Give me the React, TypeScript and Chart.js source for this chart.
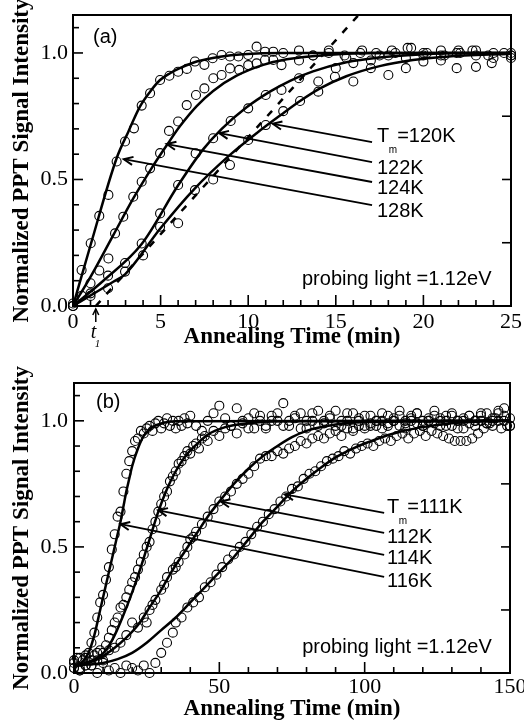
import React, { useEffect, useRef } from 'react';
import { Chart, registerables } from 'chart.js';

Chart.register(...registerables);

type Pt = [number, number];

// ---------------- Panel (a) ----------------
const aFit128: Pt[] = [[0,0],[1.0,0.24],[2.49,0.584],[3.16,0.689],[3.82,0.788],[4.4,0.847],[4.97,0.893],[5.54,0.92],[6.1,0.94],[7.06,0.966],[8.39,0.985],[9.7,0.995],[12,1.0],[25,1.0]];
const aFit124: Pt[] = [[0,0],[1,0.115],[2.3,0.28],[3.44,0.425],[4.49,0.545],[5.35,0.635],[6.1,0.71],[7.06,0.79],[8.0,0.85],[9.34,0.91],[10.86,0.953],[12.2,0.975],[14.7,0.993],[17,1.0],[25,1.0]];
const aFit122: Pt[] = [[0,0],[1.73,0.1],[3.92,0.245],[6.01,0.478],[7.44,0.62],[8.49,0.7],[9.91,0.785],[11.24,0.847],[12.39,0.89],[13.7,0.927],[15.6,0.963],[17.5,0.982],[19.8,0.994],[22,1.0],[25,1.0]];
const aFit120: Pt[] = [[0,0],[2.3,0.096],[2.97,0.125],[4.97,0.305],[6.96,0.465],[8.96,0.597],[10.48,0.683],[12.0,0.762],[12.96,0.81],[14.1,0.86],[15.6,0.908],[17.5,0.948],[19.4,0.972],[21.3,0.985],[25,0.997]];

const aDat128: Pt[] = [[0,0],[0.49,0.142],[1.01,0.248],[1.5,0.356],[2.02,0.439],[2.49,0.571],[2.97,0.65],[3.48,0.702],[3.92,0.792],[4.4,0.841],[4.97,0.893],[5.5,0.91],[6.0,0.926],[6.5,0.937],[6.96,0.966],[7.5,0.953],[7.97,0.979],[8.48,0.992],[8.96,0.986],[9.44,0.986],[10.0,0.992],[10.48,1.025],[10.96,1.005],[11.43,1.005],[12.0,1.0],[12.9,1.01],[13.7,0.99],[14.6,1.01],[15.5,0.99],[16.4,1.0],[17.3,1.0],[18.2,1.01],[19.1,1.02],[20.0,0.99],[21.0,1.01],[21.9,1.0],[22.8,1.01],[23.7,0.99],[24.6,1.0],[25,1.0]];
const aDat124: Pt[] = [[0,0],[0.5,0.04],[1.0,0.09],[1.5,0.14],[2.02,0.188],[2.4,0.287],[2.87,0.353],[3.44,0.432],[3.92,0.491],[4.4,0.544],[4.97,0.604],[5.48,0.692],[6.0,0.729],[6.49,0.794],[7.02,0.834],[7.5,0.86],[8.01,0.9],[8.48,0.913],[8.96,0.939],[9.49,0.933],[10.0,0.952],[10.48,0.959],[10.96,0.972],[11.43,0.972],[11.9,0.952],[12.9,0.97],[13.7,0.99],[14.6,1.0],[15.6,0.98],[16.5,1.01],[17.5,0.99],[18.4,1.0],[19.3,1.02],[20.2,1.0],[21.2,0.99],[22.1,1.0],[23.0,1.01],[24.0,0.98],[25,0.99]];
const aDat122: Pt[] = [[0,0.01],[1.0,0.05],[2.0,0.12],[2.97,0.17],[3.92,0.247],[4.97,0.366],[6.0,0.478],[7.0,0.603],[8.0,0.663],[9.0,0.731],[10.0,0.781],[11.0,0.834],[11.9,0.854],[12.9,0.9],[14.0,0.887],[15.0,0.94],[16.0,0.96],[17.0,0.97],[18.0,0.99],[19.0,0.98],[20.0,1.0],[21.0,0.99],[22.0,1.01],[23.0,0.99],[24.0,1.0],[25,0.99]];
const aDat120: Pt[] = [[0,0],[1.0,0.04],[2.0,0.07],[2.97,0.136],[4.0,0.2],[4.97,0.313],[6.0,0.327],[6.96,0.458],[8.0,0.5],[8.96,0.557],[10.0,0.656],[11.0,0.715],[12.0,0.77],[12.96,0.81],[14.0,0.847],[14.95,0.906],[16.0,0.887],[17.0,0.94],[18.0,0.913],[19.0,0.94],[20.0,0.966],[21.0,0.97],[21.9,0.94],[23.0,0.945],[23.9,0.96],[25,0.98]];

const aTangent: Pt[] = [[1.3, 0], [16.3, 1.15]];
const aT1 = 1.3;

const aLabelText = ['120K', '122K', '124K', '128K'];
const aLabelTm = [true, false, false, false];
const aArrowTips: Pt[] = [[11.4, 0.72], [8.35, 0.683], [5.35, 0.64], [2.9, 0.58]];
const aArrowTails: Pt[] = [[17.07, 0.648], [17.07, 0.569], [17.07, 0.49], [17.07, 0.399]];
const aLabelPos: Pt[] = [[17.35, 0.668], [17.35, 0.545], [17.35, 0.466], [17.35, 0.372]];
const aProbePos: Pt = [13.07, 0.103];
const aLetterPos: Pt = [1.14, 1.063];

const aXMajor = [0, 5, 10, 15, 20, 25];
const aXMinor = [1, 2, 3, 4, 6, 7, 8, 9, 11, 12, 13, 14, 16, 17, 18, 19, 21, 22, 23, 24];

// ---------------- Panel (b) ----------------
const bFit116: Pt[] = [[0,0.03],[3,0.045],[5,0.08],[7,0.15],[9,0.25],[11,0.35],[13,0.45],[15,0.55],[16,0.6],[17,0.66],[18,0.72],[19,0.77],[20,0.82],[22,0.89],[24,0.94],[27,0.975],[30,0.99],[35,0.998],[150,1.0]];
const bFit114: Pt[] = [[0,0.03],[4,0.04],[8,0.06],[11,0.09],[14,0.15],[17,0.23],[20,0.32],[23,0.42],[26,0.53],[29,0.64],[32,0.73],[35,0.8],[38,0.855],[42,0.905],[46,0.945],[52,0.975],[60,0.99],[70,0.998],[150,1.0]];
const bFit112: Pt[] = [[0,0.03],[5,0.04],[9,0.06],[14,0.1],[18,0.14],[22,0.19],[26,0.26],[30,0.33],[34,0.41],[38,0.48],[42,0.55],[46,0.62],[50,0.68],[55,0.75],[60,0.81],[65,0.86],[70,0.9],[75,0.935],[80,0.96],[90,0.985],[100,0.995],[150,1.0]];
const bFit111: Pt[] = [[0,0.03],[10,0.04],[15,0.055],[20,0.08],[25,0.12],[30,0.17],[35,0.22],[40,0.28],[45,0.34],[50,0.4],[55,0.46],[60,0.53],[65,0.6],[70,0.66],[75,0.72],[80,0.77],[85,0.815],[90,0.855],[95,0.885],[100,0.91],[110,0.95],[120,0.975],[130,0.99],[140,0.997],[150,1.0]];

const bDat116: Pt[] = [[0,0.02],[1,0.06],[2,0.01],[3,0.05],[4,0.03],[5,0.08],[6,0.12],[7,0.16],[8,0.22],[9,0.28],[10,0.31],[11,0.37],[12,0.42],[13,0.49],[14,0.55],[15,0.62],[16,0.64],[17,0.72],[18,0.79],[19,0.84],[20,0.88],[21,0.92],[22,0.93],[23,0.96],[24,0.95],[25,0.97],[26,0.98],[27,0.96],[28,0.99],[29,1.0],[30,0.97],[31,0.99],[32,1.01],[33,0.98],[34,1.0],[35,0.97],[36,1.0],[37,0.98],[38,1.01],[39,0.99],[40,1.02],[42,0.98],[44,0.96],[46,1.0],[48,1.03],[50,1.06],[52,1.01],[54,0.98],[56,1.05],[58,1.0],[60,0.97],[62,1.03],[64,1.0],[66,0.97],[68,1.02],[70,1.0],[72,1.07],[74,0.98],[76,1.01],[78,1.03],[80,0.97],[82,1.0],[84,1.04],[86,0.99],[88,1.01],[90,1.04],[92,0.98],[94,1.0],[96,1.03],[98,1.01],[100,0.98],[102,1.02],[104,1.0],[106,0.97],[108,1.02],[110,1.0],[112,1.04],[114,0.99],[116,1.01],[118,1.03],[120,0.98],[122,1.0],[124,1.04],[126,1.01],[128,0.98],[130,1.02],[132,1.0],[134,0.97],[136,1.02],[138,1.0],[140,1.03],[142,0.99],[144,1.01],[146,1.04],[148,1.05],[150,0.98]];
const bDat114: Pt[] = [[0,0.04],[2,0.01],[4,0.06],[6,0.03],[7,0.07],[8,0.05],[9,0.09],[10,0.08],[11,0.11],[12,0.14],[13,0.17],[14,0.2],[15,0.22],[16,0.26],[17,0.27],[18,0.3],[19,0.33],[20,0.36],[21,0.38],[22,0.41],[23,0.44],[24,0.47],[25,0.5],[26,0.52],[27,0.57],[28,0.6],[29,0.64],[30,0.67],[31,0.7],[32,0.72],[33,0.76],[34,0.78],[35,0.8],[36,0.83],[37,0.84],[38,0.86],[39,0.88],[40,0.87],[41,0.9],[42,0.91],[43,0.89],[44,0.93],[45,0.94],[46,0.92],[48,0.96],[50,0.94],[52,0.97],[54,0.98],[56,0.95],[58,0.99],[60,1.01],[62,0.97],[64,1.02],[66,0.98],[68,1.0],[70,1.03],[72,0.98],[74,1.0],[76,1.02],[78,0.97],[80,1.0],[82,1.03],[84,0.98],[86,1.0],[88,1.02],[90,0.98],[92,1.0],[94,1.03],[96,0.97],[98,1.0],[100,1.02],[102,0.98],[104,1.0],[106,1.03],[108,0.98],[110,1.0],[112,1.02],[114,0.97],[116,1.0],[118,1.03],[120,0.98],[122,1.0],[124,1.02],[126,0.98],[128,1.0],[130,1.03],[132,0.97],[134,1.0],[136,1.02],[138,0.98],[140,1.0],[142,1.03],[144,0.98],[146,1.0],[148,1.02],[150,0.98]];
const bDat112: Pt[] = [[0,0.02],[2,0.06],[4,0.03],[6,0.05],[8,0.08],[10,0.05],[12,0.09],[14,0.1],[16,0.12],[18,0.15],[20,0.2],[22,0.18],[24,0.22],[25,0.2],[26,0.25],[27,0.27],[28,0.29],[30,0.33],[31,0.35],[32,0.38],[34,0.41],[35,0.42],[36,0.44],[38,0.47],[39,0.5],[40,0.53],[41,0.54],[42,0.56],[44,0.59],[46,0.62],[48,0.65],[50,0.68],[52,0.7],[54,0.72],[56,0.75],[58,0.77],[60,0.79],[62,0.82],[64,0.85],[66,0.86],[68,0.86],[70,0.88],[72,0.87],[74,0.89],[76,0.9],[78,0.92],[80,0.91],[82,0.93],[84,0.94],[86,0.93],[88,0.95],[90,0.96],[92,0.94],[94,0.97],[96,0.96],[98,0.98],[100,0.97],[102,0.99],[104,0.98],[106,1.0],[108,0.99],[110,1.01],[112,0.98],[114,1.0],[116,1.02],[118,0.99],[120,1.0],[122,1.01],[124,0.99],[126,1.0],[128,1.02],[130,0.98],[132,1.0],[134,1.01],[136,0.99],[138,1.0],[140,1.02],[142,0.99],[144,1.0],[146,1.03],[148,1.0],[150,1.01]];
const bDat111: Pt[] = [[0,0.05],[2,0.02],[4,0.07],[6,0.03],[8,0.0],[10,0.04],[12,0.01],[14,0.02],[16,0.0],[18,0.03],[20,0.02],[22,0.01],[24,0.03],[26,0.0],[28,0.04],[30,0.08],[32,0.12],[34,0.16],[35,0.2],[37,0.22],[39,0.26],[41,0.28],[43,0.3],[45,0.34],[47,0.36],[49,0.39],[51,0.42],[53,0.45],[55,0.47],[57,0.5],[59,0.52],[61,0.55],[63,0.58],[65,0.6],[67,0.63],[69,0.65],[71,0.68],[73,0.7],[75,0.73],[77,0.74],[79,0.77],[81,0.79],[83,0.8],[85,0.82],[87,0.84],[89,0.85],[91,0.86],[93,0.88],[95,0.87],[97,0.89],[99,0.9],[101,0.91],[103,0.9],[105,0.92],[107,0.93],[109,0.92],[111,0.94],[113,0.95],[115,0.93],[117,0.95],[119,0.96],[121,0.94],[123,0.96],[125,0.95],[127,0.94],[129,0.93],[131,0.92],[133,0.92],[135,0.92],[137,0.93],[139,0.95],[141,0.97],[143,0.99],[145,1.01],[147,0.97],[149,0.98]];

const bLabelText = ['111K', '112K', '114K', '116K'];
const bLabelTm = [true, false, false, false];
const bArrowTips: Pt[] = [[72.5, 0.708], [50.5, 0.68], [29.0, 0.645], [16.0, 0.59]];
const bArrowTails: Pt[] = [[106.7, 0.635], [106.7, 0.556], [106.7, 0.468], [106.7, 0.381]];
const bLabelPos: Pt[] = [[107.7, 0.655], [107.7, 0.536], [107.7, 0.456], [107.7, 0.361]];
const bProbePos: Pt = [78.5, 0.103];
const bLetterPos: Pt = [7.57, 1.071];

const bXMajor = [0, 50, 100, 150];
const bXMinor = [10, 20, 30, 40, 60, 70, 80, 90, 110, 120, 130, 140];

// shared y ticks
const yMajor = [0, 0.5, 1.0];
const yMinor = [0.1, 0.2, 0.3, 0.4, 0.6, 0.7, 0.8, 0.9, 1.1];
const yRight = [0.25, 0.5, 0.75, 1.0];
const yMax = 1.15;

const SERIF = "'Liberation Serif', 'Times New Roman', serif";
const SANS = "'Liberation Sans', Arial, sans-serif";

const toXY = (pts: Pt[]) => pts.map(([x, y]) => ({ x, y }));

const annotPlugin = {
  id: 'annot',
  afterDatasetsDraw(chart: any, _args: any, o: any) {
    const { ctx, chartArea: ca, scales } = chart;
    const xs = scales.x, ys = scales.y;
    const px = (t: number) => xs.getPixelForValue(t);
    const py = (v: number) => ys.getPixelForValue(v);
    ctx.save();
    ctx.strokeStyle = '#000';
    ctx.fillStyle = '#000';
    ctx.lineCap = 'butt';
    ctx.lineWidth = 2;
    ctx.strokeRect(ca.left, ca.top, ca.right - ca.left, ca.bottom - ca.top);
    ctx.lineWidth = 1.6;
    const seg = (x1: number, y1: number, x2: number, y2: number) => {
      ctx.beginPath(); ctx.moveTo(x1, y1); ctx.lineTo(x2, y2); ctx.stroke();
    };
    o.xMajor.forEach((t: number) => seg(px(t), ca.bottom, px(t), ca.bottom - 11));
    o.xMinor.forEach((t: number) => seg(px(t), ca.bottom, px(t), ca.bottom - 6));
    yMajor.forEach((v) => seg(ca.left, py(v), ca.left + 10, py(v)));
    yMinor.forEach((v) => seg(ca.left, py(v), ca.left + 6, py(v)));
    yRight.forEach((v) => seg(ca.right, py(v), ca.right - 9, py(v)));
    ctx.lineWidth = 1.8;
    o.tips.forEach((tip: Pt, i: number) => {
      const tail = o.tails[i];
      const x1 = px(tail[0]), y1 = py(tail[1]);
      const x2 = px(tip[0]), y2 = py(tip[1]);
      seg(x1, y1, x2, y2);
      const a = Math.atan2(y2 - y1, x2 - x1);
      const L = 10, w = 0.42;
      ctx.beginPath();
      ctx.moveTo(x2 - L * Math.cos(a - w), y2 - L * Math.sin(a - w));
      ctx.lineTo(x2, y2);
      ctx.lineTo(x2 - L * Math.cos(a + w), y2 - L * Math.sin(a + w));
      ctx.lineWidth = 2;
      ctx.stroke();
      ctx.lineWidth = 1.8;
    });
    ctx.textBaseline = 'middle';
    ctx.textAlign = 'left';
    o.labels.forEach((txt: string, i: number) => {
      const x = px(o.labelPos[i][0]), y = py(o.labelPos[i][1]);
      ctx.font = `20px ${SANS}`;
      if (o.tm[i]) {
        ctx.fillText('T', x, y);
        const tw = ctx.measureText('T').width;
        ctx.font = `10px ${SANS}`;
        ctx.fillText('m', x + tw - 0.5, y + 13);
        ctx.font = `20px ${SANS}`;
        ctx.fillText('=' + txt, x + tw + 8, y);
      } else {
        ctx.fillText(txt, x, y);
      }
    });
    ctx.font = `20px ${SANS}`;
    ctx.fillText('probing light =1.12eV', px(o.probe[0]), py(o.probe[1]));
    ctx.fillText(o.letter, px(o.letterPos[0]), py(o.letterPos[1]));
    if (o.t1 !== undefined) {
      const x = px(o.t1);
      ctx.lineWidth = 1.5;
      seg(x, ca.bottom + 16, x, ca.bottom + 3);
      ctx.beginPath();
      ctx.moveTo(x - 3, ca.bottom + 9);
      ctx.lineTo(x, ca.bottom + 3);
      ctx.lineTo(x + 3, ca.bottom + 9);
      ctx.stroke();
      ctx.font = `italic 20px ${SERIF}`;
      ctx.fillText('t', x - 5, ca.bottom + 27);
      ctx.font = `italic 11px ${SERIF}`;
      ctx.fillText('1', x - 1, ca.bottom + 38);
    }
    ctx.restore();
  },
};

function buildConfig(p: any) {
  const datasets: any[] = [];
  p.data.forEach((d: Pt[]) =>
    datasets.push({
      data: toXY(d), showLine: false, pointRadius: 4.5, pointBorderWidth: 1.1,
      pointBorderColor: '#000', pointBackgroundColor: 'rgba(0,0,0,0)', clip: false, order: 2,
    })
  );
  p.fits.forEach((f: Pt[]) =>
    datasets.push({
      data: toXY(f), borderColor: '#000', borderWidth: 2.5, pointRadius: 0,
      cubicInterpolationMode: 'monotone', fill: false, order: 1,
    })
  );
  if (p.dashed) {
    datasets.push({
      data: toXY(p.dashed), borderColor: '#000', borderWidth: 2.5, borderDash: [7, 9],
      pointRadius: 0, fill: false, order: 0,
    });
  }
  return {
    type: 'line',
    data: { datasets },
    plugins: [annotPlugin],
    options: {
      animation: false,
      responsive: false,
      devicePixelRatio: 1,
      events: [],
      layout: { padding: { left: 0, right: p.padRight, top: p.padTop, bottom: 0 } },
      plugins: {
        legend: { display: false },
        tooltip: { enabled: false },
        annot: p.annot,
      },
      scales: {
        x: {
          type: 'linear', min: 0, max: p.xMax,
          grid: { display: false, drawTicks: false },
          border: { display: false },
          ticks: {
            stepSize: p.xStep, maxRotation: 0, autoSkip: false, padding: p.xTickPad,
            color: '#000', font: { family: SERIF, size: 22 },
            callback: (v: number) => String(v),
          },
          title: {
            display: true, text: 'Annealing Time (min)', color: '#000',
            font: { family: SERIF, size: 23, weight: 'bold' },
            padding: { top: 0, bottom: p.xTitlePad },
          },
          afterFit: (s: any) => { s.height = p.xHeight; s.paddingLeft = 0; s.paddingRight = 0; },
        },
        y: {
          type: 'linear', min: 0, max: yMax,
          grid: { display: false, drawTicks: false },
          border: { display: false },
          ticks: {
            stepSize: 0.5, padding: p.yTickPad, color: '#000', font: { family: SERIF, size: 22 },
            callback: (v: number) => (yMajor.some((m) => Math.abs(m - v) < 1e-6) ? v.toFixed(1) : ''),
          },
          title: {
            display: true, text: 'Normalized PPT Signal Intensity', color: '#000',
            font: { family: SERIF, size: 23, weight: 'bold' },
            padding: { top: 8, bottom: 0 },
          },
          afterFit: (s: any) => { s.width = p.yWidth; s.paddingTop = 0; s.paddingBottom = 0; },
        },
      },
    },
  };
}

const panelA = {
  data: [aDat128, aDat124, aDat122, aDat120],
  fits: [aFit128, aFit124, aFit122, aFit120],
  dashed: aTangent,
  xMax: 25, xStep: 5, padRight: 13, padTop: 15, xHeight: 54, xTitlePad: 9, xTickPad: 3, yTickPad: 5, yWidth: 73,
  annot: {
    xMajor: aXMajor, xMinor: aXMinor, tips: aArrowTips, tails: aArrowTails, labels: aLabelText,
    tm: aLabelTm, labelPos: aLabelPos, probe: aProbePos, letter: '(a)', letterPos: aLetterPos, t1: aT1,
  },
};

const panelB = {
  data: [bDat116, bDat114, bDat112, bDat111],
  fits: [bFit116, bFit114, bFit112, bFit111],
  dashed: null,
  xMax: 150, xStep: 50, padRight: 14, padTop: 23, xHeight: 52, xTitlePad: 2, xTickPad: 1, yTickPad: 6, yWidth: 74,
  annot: {
    xMajor: bXMajor, xMinor: bXMinor, tips: bArrowTips, tails: bArrowTails, labels: bLabelText,
    tm: bLabelTm, labelPos: bLabelPos, probe: bProbePos, letter: '(b)', letterPos: bLetterPos,
  },
};

function Panel({ spec, height }: { spec: any; height: number }) {
  const ref = useRef<HTMLCanvasElement>(null);
  useEffect(() => {
    const chart = new Chart(ref.current as HTMLCanvasElement, buildConfig(spec) as any);
    return () => chart.destroy();
  }, []);
  return <canvas ref={ref} width={524} height={height} style={{ display: 'block', width: 524, height }} />;
}

export default function App() {
  return (
    <div style={{ position: 'absolute', left: 0, top: 0, width: 524, height: 725, background: '#fff' }}>
      <Panel spec={panelA} height={360} />
      <Panel spec={panelB} height={365} />
    </div>
  );
}
